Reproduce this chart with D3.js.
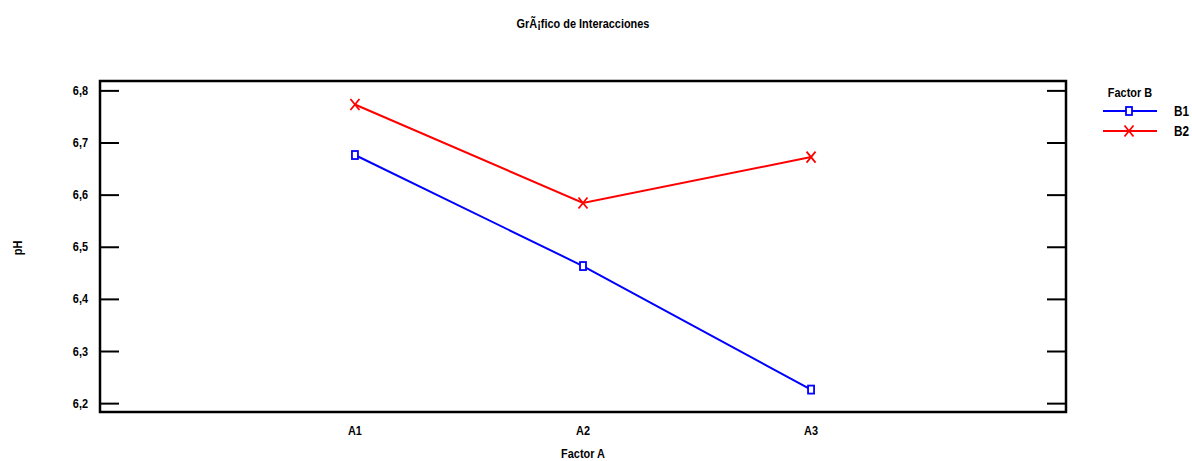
<!DOCTYPE html>
<html>
<head>
<meta charset="utf-8">
<script src="https://cdn.jsdelivr.net/npm/d3@7"></script>
<style>
  body { margin: 0; background: #fff; }
  text { font-family: "Liberation Sans Narrow", "Arial Narrow", "Liberation Sans", sans-serif; font-weight: bold; fill: #000; }
</style>
</head>
<body>
<svg id="chart" width="1192" height="461"></svg>
<script>
// datos
const levelsA = ["A1", "A2", "A3"];
const seriesNames = ["B1", "B2"];
const valuesB1 = [6.676, 6.463, 6.226];
const valuesB2 = [6.773, 6.584, 6.672];
const yTicks = [6.2, 6.3, 6.4, 6.5, 6.6, 6.7, 6.8];

const series = [
  { name: seriesNames[0], values: valuesB1, color: "#0000ff", marker: "square" },
  { name: seriesNames[1], values: valuesB2, color: "#ff0000", marker: "cross" }
];

const box = { left: 100, top: 81, right: 1066, bottom: 412 };
const narrow = 0.84; // imitar fuente estrecha

const svg = d3.select("#chart");

const x = d3.scalePoint()
  .domain(levelsA)
  .range([box.left, box.right])
  .padding(1.118);

const y = d3.scaleLinear()
  .domain([6.183, 6.818])
  .range([box.bottom, box.top]);

// texto comprimido horizontalmente
function label(parent, tx, ty, str, anchor, size, rot) {
  return parent.append("text")
    .attr("transform", `translate(${tx},${ty})${rot ? ` rotate(${rot})` : ""} scale(${narrow},1)`)
    .attr("text-anchor", anchor)
    .style("font-size", size + "px")
    .text(str);
}

// marco
svg.append("rect")
  .attr("x", box.left)
  .attr("y", box.top)
  .attr("width", box.right - box.left)
  .attr("height", box.bottom - box.top)
  .attr("fill", "none")
  .attr("stroke", "#000")
  .attr("stroke-width", 2.5);

// marcas del eje Y (izquierda y derecha)
const fmt = d => d.toFixed(1).replace(".", ",");
svg.append("g")
  .attr("transform", `translate(${box.left},0)`)
  .call(d3.axisRight(y).tickValues(yTicks).tickSize(19).tickFormat(""))
  .call(g => g.select(".domain").remove())
  .call(g => g.selectAll("line").attr("stroke-width", 2));

svg.append("g")
  .attr("transform", `translate(${box.right},0)`)
  .call(d3.axisLeft(y).tickValues(yTicks).tickSize(19).tickFormat(""))
  .call(g => g.select(".domain").remove())
  .call(g => g.selectAll("line").attr("stroke-width", 2));

const yLabels = svg.append("g");
yTicks.forEach(t => {
  label(yLabels, box.left - 12, y(t), fmt(t), "end", 13).attr("dy", "0.35em");
});

// etiquetas del eje X
const xLabels = svg.append("g");
levelsA.forEach(a => label(xLabels, x(a), 435, a, "middle", 13));

label(svg, x("A2"), 458, "Factor A", "middle", 13);
label(svg, 22, 248, "pH", "middle", 13, -90);
label(svg, 583, 28, "GrÃ¡fico de Interacciones", "middle", 13);

// marcadores
function drawMarker(g, type, color, cx, cy) {
  if (type === "square") {
    g.append("rect")
      .attr("x", cx - 3).attr("y", cy - 4)
      .attr("width", 6).attr("height", 8)
      .attr("fill", "#fff")
      .attr("stroke", color)
      .attr("stroke-width", 1.8);
  } else {
    g.append("path")
      .attr("d", `M${cx - 4.5},${cy - 5.5}L${cx + 4.5},${cy + 5.5}M${cx - 4.5},${cy + 5.5}L${cx + 4.5},${cy - 5.5}`)
      .attr("stroke", color)
      .attr("stroke-width", 1.8)
      .attr("fill", "none");
  }
}

const line = d3.line()
  .x((d, i) => x(levelsA[i]))
  .y(d => y(d));

series.forEach(s => {
  const g = svg.append("g");
  g.append("path")
    .attr("d", line(s.values))
    .attr("fill", "none")
    .attr("stroke", s.color)
    .attr("stroke-width", 2);
  s.values.forEach((v, i) => drawMarker(g, s.marker, s.color, x(levelsA[i]), y(v)));
});

// leyenda
const legend = svg.append("g");
label(legend, 1130, 97, "Factor B", "middle", 13);

series.forEach((s, i) => {
  const ly = 111 + i * 20;
  legend.append("line")
    .attr("x1", 1103).attr("x2", 1157)
    .attr("y1", ly).attr("y2", ly)
    .attr("stroke", s.color)
    .attr("stroke-width", 2);
  drawMarker(legend, s.marker, s.color, 1129, ly);
  label(legend, 1174, ly, s.name, "start", 14).attr("dy", "0.35em");
});
</script>
</body>
</html>
